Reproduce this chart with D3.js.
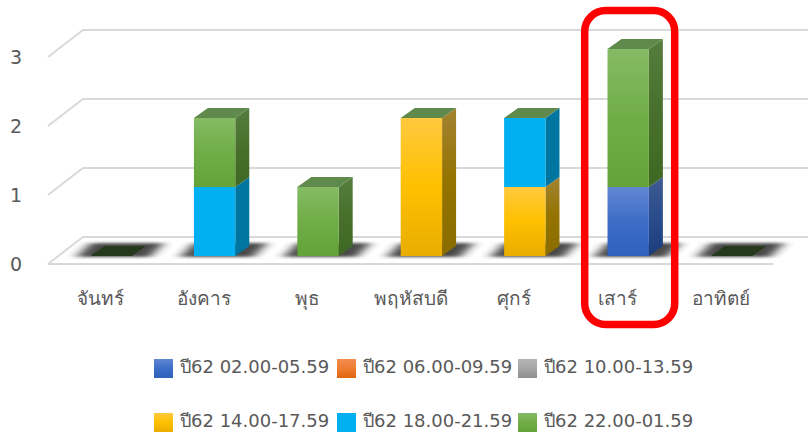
<!DOCTYPE html>
<html>
<head>
<meta charset="utf-8">
<script src="https://cdn.jsdelivr.net/npm/d3@7"></script>
<style>
  html, body { margin: 0; padding: 0; background: #fff; }
  svg { display: block; }
  text { font-family: "DejaVu Sans", "Noto Sans", sans-serif; fill: #595959; }
</style>
</head>
<body>
<svg id="chart" width="808" height="433"></svg>
<script>
const days = ["จันทร์", "อังคาร", "พุธ", "พฤหัสบดี", "ศุกร์", "เสาร์", "อาทิตย์"];
const seriesNames = ["ปี62 02.00-05.59", "ปี62 06.00-09.59", "ปี62 10.00-13.59", "ปี62 14.00-17.59", "ปี62 18.00-21.59", "ปี62 22.00-01.59"];
const s0205 = [0, 0, 0, 0, 0, 1, 0];
const s0609 = [0, 0, 0, 0, 0, 0, 0];
const s1013 = [0, 0, 0, 0, 0, 0, 0];
const s1417 = [0, 0, 0, 2, 1, 0, 0];
const s1821 = [0, 1, 0, 0, 1, 0, 0];
const s2201 = [0, 1, 1, 0, 0, 2, 0];
const yTicks = [0, 1, 2, 3];

// colours per series: front gradient and side gradient
const frontStops = [
  ["#6187d3", "#3d6dc6", "#2f62bb"],
  ["#f48c4f", "#ed7d31", "#e0660f"],
  ["#b5b5b5", "#a5a5a5", "#8f8f8f"],
  ["#ffc93f", "#ffc000", "#e8ad00"],
  ["#00b0f0", "#00b0f0", "#00b0f0"],
  ["#85bb65", "#70ad47", "#64a338"]
];
const sideStops = [
  ["#3e5a90", "#2a4c8c", "#1c3d7c"],
  ["#a05c30", "#96521f", "#8a4a12"],
  ["#787878", "#686868", "#585858"],
  ["#a38332", "#947300", "#8a6c00"],
  ["#00759f", "#00759f", "#00759f"],
  ["#567d3e", "#48702c", "#3d6822"]
];

const rows = days.map((d, i) => ({
  day: d, s0: s0205[i], s1: s0609[i], s2: s1013[i], s3: s1417[i], s4: s1821[i], s5: s2201[i]
}));
const keys = ["s0", "s1", "s2", "s3", "s4", "s5"];
const stacked = d3.stack().keys(keys)(rows);

const svg = d3.select("#chart");

const x = d3.scaleBand().domain(days).range([59.5, 783.3]).paddingInner(0.6).paddingOuter(0.3);
const y = d3.scaleLinear().domain([0, 3]).range([256, 49]);

// 3d offsets
const depthX = 14, depthY = -10;       // bar depth
const wallX = 35, wallY = -27;         // floor depth
const floorDrop = 8;                   // front floor edge sits below the bar base
const floorLeft = 48, floorRight = 773;

const defs = svg.append("defs");
function grad(id, stops) {
  const g = defs.append("linearGradient").attr("id", id)
    .attr("x1", 0).attr("y1", 0).attr("x2", 0).attr("y2", 1);
  g.append("stop").attr("offset", "0%").attr("stop-color", stops[0]);
  g.append("stop").attr("offset", "50%").attr("stop-color", stops[1]);
  g.append("stop").attr("offset", "100%").attr("stop-color", stops[2]);
}
keys.forEach((k, i) => {
  grad("front" + i, frontStops[i]);
  grad("side" + i, sideStops[i]);
});
defs.append("filter").attr("id", "blur")
  .attr("x", "-40%").attr("y", "-100%").attr("width", "180%").attr("height", "300%")
  .append("feGaussianBlur").attr("stdDeviation", "6 1.6");

/* grid: slanted left part + back line */
const grid = svg.append("g");
grid.selectAll("path").data(yTicks).enter().append("path")
  .attr("d", t => {
    const yf = y(t) + floorDrop;
    return `M${floorLeft},${yf}L${floorLeft + wallX},${yf + wallY}L${floorRight + wallX},${yf + wallY}`;
  })
  .attr("fill", "none").attr("stroke", "#d9d9d9").attr("stroke-width", 2);
grid.append("line")
  .attr("x1", floorLeft).attr("x2", floorRight)
  .attr("y1", y(0) + floorDrop).attr("y2", y(0) + floorDrop)
  .attr("stroke", "#d9d9d9").attr("stroke-width", 2);

/* y axis, labels only */
const yAxis = d3.axisLeft(y).tickValues(yTicks).tickSize(0).tickPadding(0).tickFormat(d3.format("d"));
svg.append("g").attr("transform", "translate(22,8)").call(yAxis)
  .call(g => g.select(".domain").remove())
  .selectAll("text").attr("font-size", 19).style("font-family", '"DejaVu Sans", sans-serif');

/* x axis, labels only */
const xAxis = d3.axisBottom(x).tickSize(0).tickPadding(0);
svg.append("g").attr("transform", "translate(-10.5,291)").call(xAxis)
  .call(g => g.select(".domain").remove())
  .selectAll("text").attr("font-size", 19).style("font-family", '"Noto Sans", "DejaVu Sans", sans-serif').style("font-weight", 500);

/* floor shadows */
svg.append("g")
  .selectAll("path").data(days).enter().append("path")
  .attr("d", d => {
    const l = x(d), r = l + x.bandwidth(), b = y(0) + 1;
    return `M${l - 14},${b}L${r + 18},${b}L${r + 32},${b - 14}L${l},${b - 14}Z`;
  })
  .attr("fill", "#2b2b2b").attr("opacity", 0.85).attr("filter", "url(#blur)");

/* bars */
const bars = svg.append("g");
stacked.forEach((layer, i) => {
  const g = bars.append("g").attr("class", "series" + i);
  const visible = layer.filter(p => p[1] > p[0]);
  // side face
  g.selectAll(".side").data(visible).enter().append("path").attr("class", "side")
    .attr("d", p => {
      const r = x(p.data.day) + x.bandwidth();
      return `M${r},${y(p[1])}L${r + depthX},${y(p[1]) + depthY}L${r + depthX},${y(p[0]) + depthY}L${r},${y(p[0])}Z`;
    })
    .attr("fill", `url(#side${i})`);
  // front face
  g.selectAll(".front").data(visible).enter().append("rect").attr("class", "front")
    .attr("x", p => x(p.data.day))
    .attr("y", p => y(p[1]))
    .attr("width", x.bandwidth())
    .attr("height", p => y(p[0]) - y(p[1]))
    .attr("fill", `url(#front${i})`);
});

/* top caps: the empty last series sits on top of every stack, so they are all green */
bars.append("g").selectAll("path").data(stacked[stacked.length - 1]).enter().append("path")
  .attr("d", p => {
    const l = x(p.data.day), r = l + x.bandwidth(), t = y(p[1]);
    return `M${l},${t}L${r},${t}L${r + depthX},${t + depthY}L${l + depthX},${t + depthY}Z`;
  })
  .attr("fill", p => p[1] > 0 ? "#608a4b" : "#253a1c");

/* legend */
const legendCols = d3.scaleOrdinal().domain([0, 1, 2]).range([154, 337, 518]);
const legendRows = d3.scaleOrdinal().domain([0, 1]).range([359, 413]);
const legend = svg.append("g").selectAll("g").data(seriesNames).enter().append("g")
  .attr("transform", (d, i) => `translate(${legendCols(i % 3)},${legendRows(Math.floor(i / 3))})`);
legend.append("rect").attr("width", 19).attr("height", 19)
  .attr("fill", (d, i) => `url(#front${i})`);
legend.append("text").attr("x", 26).attr("y", 13.5)
  .attr("font-size", 18).text(d => d);

/* red highlight round Saturday */
const satCentre = x("เสาร์") + x.bandwidth() / 2;
svg.append("rect")
  .attr("x", satCentre - 43.5).attr("y", 10.5)
  .attr("width", 90).attr("height", 314)
  .attr("rx", 21).attr("ry", 21)
  .attr("fill", "none").attr("stroke", "#ff0000").attr("stroke-width", 7.5);
</script>
</body>
</html>
